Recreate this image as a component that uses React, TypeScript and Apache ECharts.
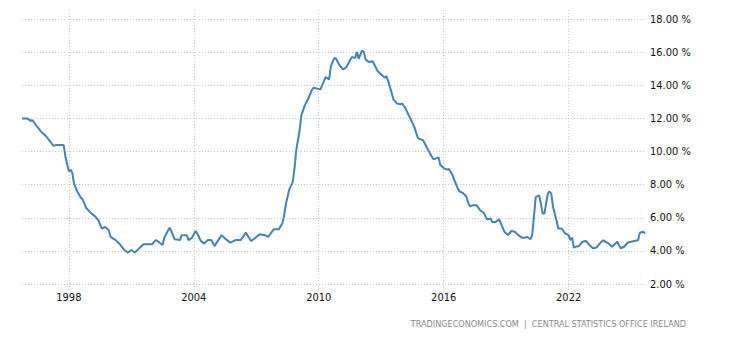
import React, { useEffect, useRef } from "react";
import * as echarts from "echarts";

const dates: string[] = [
  "1995-10","1996-01","1996-03","1996-04","1996-06","1996-09","1996-12","1997-03","1997-04","1997-06",
  "1997-10","1997-11","1998-01","1998-02","1998-03","1998-04","1998-06","1998-08","1998-09","1998-11",
  "1999-02","1999-04","1999-06","1999-08","1999-10","1999-12","2000-01","2000-04","2000-06","2000-09",
  "2000-11","2001-01","2001-03","2001-05","2001-08","2001-10","2002-01","2002-03","2002-04","2002-07",
  "2002-08","2002-11","2002-12","2003-02","2003-05","2003-06","2003-09","2003-10","2003-12","2004-02",
  "2004-03","2004-05","2004-07","2004-09","2004-11","2005-01","2005-05","2005-07","2005-10","2006-01",
  "2006-04","2006-07","2006-10","2006-12","2007-03","2007-06","2007-08","2007-11","2008-02","2008-04",
  "2008-05","2008-06","2008-08","2008-10","2008-11","2008-12","2009-02","2009-03","2009-05","2009-06",
  "2009-07","2009-09","2009-10","2010-02","2010-04","2010-05","2010-07","2010-08","2010-10","2010-11",
  "2011-01","2011-03","2011-05","2011-07","2011-08","2011-10","2011-11","2011-12","2012-02","2012-03",
  "2012-04","2012-06","2012-08","2012-09","2012-11","2013-01","2013-03","2013-04","2013-05","2013-07",
  "2013-08","2013-10","2013-12","2014-01","2014-03","2014-05","2014-06","2014-08","2014-10","2014-11",
  "2015-01","2015-03","2015-05","2015-07","2015-08","2015-10","2015-11","2016-01","2016-03","2016-04",
  "2016-06","2016-07","2016-09","2016-10","2016-12","2017-02","2017-03","2017-04","2017-06","2017-08",
  "2017-10","2017-12","2018-02","2018-04","2018-05","2018-07","2018-09","2018-10","2018-12","2019-02",
  "2019-04","2019-06","2019-08","2019-10","2019-12","2020-01","2020-03","2020-04","2020-05","2020-06",
  "2020-08","2020-09","2020-10","2020-11","2020-12","2021-01","2021-02","2021-03","2021-04","2021-06",
  "2021-07","2021-09","2021-10","2021-11","2022-01","2022-02","2022-03","2022-04","2022-05","2022-07",
  "2022-09","2022-11","2023-01","2023-03","2023-05","2023-07","2023-09","2023-10","2023-12","2024-02",
  "2024-04","2024-05","2024-07","2024-09","2024-11","2025-01","2025-03","2025-05","2025-06","2025-08",
  "2025-09",
];

const rates: number[] = [
  12.0, 12.0, 11.85, 11.9, 11.6, 11.2, 10.9, 10.5, 10.35, 10.4,
  10.4, 9.7, 8.8, 8.9, 8.7, 8.05, 7.55, 7.2, 7.1, 6.6,
  6.25, 6.1, 5.85, 5.35, 5.45, 5.25, 4.85, 4.65, 4.45, 4.05,
  3.9, 4.05, 3.9, 4.1, 4.4, 4.4, 4.4, 4.65, 4.6, 4.35,
  4.8, 5.4, 5.2, 4.7, 4.65, 4.95, 4.95, 4.65, 4.8, 5.2,
  5.05, 4.6, 4.45, 4.65, 4.65, 4.3, 4.95, 4.75, 4.5, 4.65,
  4.65, 5.1, 4.6, 4.75, 5.0, 4.95, 4.85, 5.3, 5.3, 5.65,
  6.1, 6.8, 7.7, 8.15, 8.95, 10.05, 11.3, 12.2, 12.8, 13.0,
  13.2, 13.7, 13.85, 13.75, 14.25, 14.5, 14.35, 15.15, 15.65, 15.6,
  15.2, 14.95, 15.1, 15.5, 15.7, 15.65, 16.0, 15.6, 16.1, 16.0,
  15.55, 15.4, 15.45, 15.25, 14.85, 14.65, 14.45, 14.55, 14.25, 13.55,
  13.15, 12.9, 12.85, 12.9, 12.6, 12.15, 11.95, 11.5, 10.85, 10.75,
  10.7, 10.3, 9.9, 9.55, 9.55, 9.65, 9.2, 9.0, 8.9, 8.95,
  8.6, 8.3, 7.8, 7.6, 7.5, 7.3, 6.95, 6.7, 6.75, 6.75,
  6.45, 6.3, 5.9, 5.95, 5.75, 5.75, 5.9, 5.65, 5.15, 4.95,
  5.2, 5.15, 4.95, 4.8, 4.8, 4.85, 4.7, 4.95, 6.05, 7.25,
  7.35, 6.85, 6.25, 6.25, 6.85, 7.45, 7.6, 7.45, 6.65, 5.85,
  5.35, 5.35, 5.2, 5.05, 4.95, 4.65, 4.8, 4.2, 4.25, 4.3,
  4.55, 4.6, 4.35, 4.15, 4.2, 4.45, 4.65, 4.55, 4.45, 4.25,
  4.45, 4.55, 4.15, 4.25, 4.5, 4.55, 4.6, 4.65, 5.1, 5.15,
  5.05,
];

const yearTicks: number[] = [1998, 2004, 2010, 2016, 2022];
const yTicks: number[] = [2, 4, 6, 8, 10, 12, 14, 16, 18];

const toYear = (s: string) => {
  const [y, m] = s.split("-").map(Number);
  return y + (m - 1) / 12;
};

const FONT = "'DejaVu Sans Condensed', 'Liberation Sans', sans-serif";

export default function App() {
  const ref = useRef<HTMLDivElement>(null);
  useEffect(() => {
    if (!ref.current) return;
    const chart = echarts.init(ref.current, undefined, { renderer: "svg" });
    const xMin = toYear(dates[0]);
    const xMax = toYear(dates[dates.length - 1]);
    const gridLine = { show: true, lineStyle: { color: "#c8c8c8", type: [1, 2] as any, width: 1 } };
    chart.setOption({
      animation: false,
      backgroundColor: "#ffffff",
      grid: [
        { left: 22, right: 85, top: 19, bottom: 56, containLabel: false },
        { left: 22, right: 85, top: 10, bottom: 50, containLabel: false },
      ],
      xAxis: [
        {
          type: "value",
          gridIndex: 0,
          min: xMin,
          max: xMax,
          axisLine: { show: false },
          axisTick: { show: false, customValues: yearTicks },
          axisLabel: {
            customValues: yearTicks,
            color: "#111",
            fontSize: 11,
            fontFamily: FONT,
            margin: 8,
            formatter: (v: number) => String(Math.round(v)),
          },
          splitLine: { show: false },
        },
        {
          type: "value",
          gridIndex: 1,
          min: xMin,
          max: xMax,
          axisLine: { show: false },
          axisTick: { show: false, customValues: yearTicks },
          axisLabel: { show: false },
          splitLine: gridLine,
        },
      ],
      yAxis: [
        {
          type: "value",
          gridIndex: 0,
          position: "right",
          min: 2,
          max: 18,
          interval: 2,
          axisLine: { show: false },
          axisTick: { show: false },
          axisLabel: {
            color: "#111",
            fontSize: 11,
            fontFamily: FONT,
            margin: 5,
            formatter: (v: number) => (yTicks.includes(v) ? v.toFixed(2) + " %" : ""),
          },
          splitLine: gridLine,
        },
        {
          type: "value",
          gridIndex: 1,
          min: 0,
          max: 1,
          show: false,
          splitLine: { show: false },
        },
      ],
      graphic: [
        {
          type: "text",
          right: 44,
          top: 319,
          style: {
            text: "TRADINGECONOMICS.COM  |  CENTRAL STATISTICS OFFICE IRELAND",
            fill: "#8a8a8a",
            fontSize: 9,
            fontFamily: FONT,
          },
        },
      ],
      series: [
        {
          type: "line",
          xAxisIndex: 0,
          yAxisIndex: 0,
          data: dates.map((d, i) => [toYear(d), rates[i]]),
          showSymbol: false,
          lineStyle: { color: "#4682b4", width: 2 },
          itemStyle: { color: "#4682b4" },
        },
      ],
    });
    return () => chart.dispose();
  }, []);
  return <div ref={ref} style={{ width: 730, height: 340, margin: -8 }} />;
}
